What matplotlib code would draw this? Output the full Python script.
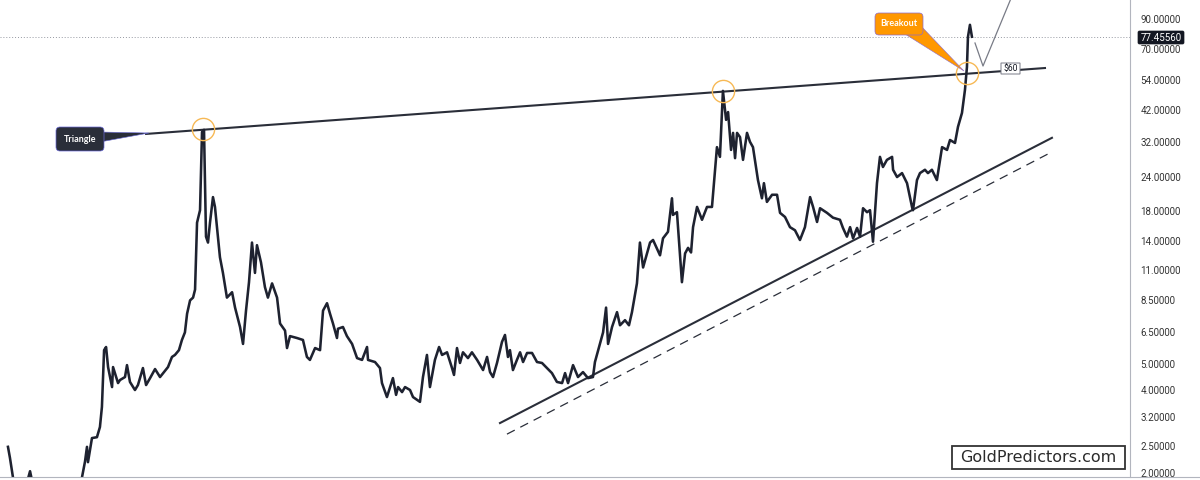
import matplotlib
matplotlib.use("Agg")
import matplotlib.pyplot as plt
from matplotlib.patches import FancyBboxPatch, Polygon
from matplotlib.lines import Line2D
from matplotlib.transforms import Affine2D
from matplotlib.ticker import NullLocator

# ---------------- data ----------------
years = [
    1968.28, 1968.40, 1968.58, 1968.76, 1969.13, 1969.43, 1969.61, 1969.79, 1970.21, 1970.81,
    1971.41, 1972.02, 1972.50, 1972.74, 1972.92, 1973.04, 1973.10, 1973.34, 1973.64, 1973.82,
    1973.94, 1974.07, 1974.19, 1974.31, 1974.55, 1974.61, 1974.91, 1975.03, 1975.33, 1975.45,
    1975.63, 1975.93, 1976.11, 1976.41, 1976.60, 1976.84, 1977.14, 1977.44, 1977.68, 1977.92,
    1978.16, 1978.34, 1978.58, 1978.76, 1978.94, 1979.07, 1979.25, 1979.43, 1979.55, 1979.67,
    1979.85, 1979.97, 1980.09, 1980.21, 1980.33, 1980.45, 1980.63, 1980.75, 1981.05, 1981.23,
    1981.47, 1981.78, 1981.96, 1982.26, 1982.44, 1982.62, 1982.80, 1982.98, 1983.16, 1983.28,
    1983.52, 1983.76, 1983.94, 1984.19, 1984.49, 1984.67, 1984.97, 1985.09, 1985.27, 1985.69,
    1986.05, 1986.29, 1986.47, 1986.78, 1987.08, 1987.26, 1987.50, 1987.68, 1987.86, 1988.10,
    1988.16, 1988.46, 1988.70, 1989.01, 1989.31, 1989.61, 1989.91, 1989.97, 1990.39, 1990.69,
    1990.81, 1991.11, 1991.47, 1991.66, 1991.78, 1992.02, 1992.20, 1992.50, 1992.68, 1993.10,
    1993.28, 1993.52, 1993.70, 1994.00, 1994.25, 1994.43, 1994.73, 1995.03, 1995.15, 1995.33,
    1995.51, 1995.69, 1995.99, 1996.23, 1996.54, 1996.90, 1997.14, 1997.32, 1997.50, 1997.74,
    1998.04, 1998.22, 1998.40, 1998.52, 1998.70, 1998.94, 1999.13, 1999.31, 1999.55, 1999.85,
    2000.15, 2000.45, 2000.75, 2001.05, 2001.35, 2001.66, 2001.84, 2002.02, 2002.32, 2002.62,
    2002.92, 2003.22, 2003.52, 2003.64, 2003.94, 2004.13, 2004.31, 2004.43, 2004.67, 2004.97,
    2005.15, 2005.45, 2005.69, 2005.87, 2006.17, 2006.35, 2006.54, 2006.78, 2006.96, 2007.14,
    2007.56, 2007.74, 2008.04, 2008.28, 2008.34, 2008.58, 2008.88, 2009.07, 2009.25, 2009.43,
    2009.55, 2009.79, 2010.09, 2010.39, 2010.69, 2010.99, 2011.17, 2011.35, 2011.54, 2011.66,
    2011.84, 2011.96, 2012.08, 2012.20, 2012.38, 2012.56, 2012.80, 2012.98, 2013.16, 2013.46,
    2013.70, 2013.82, 2014.00, 2014.31, 2014.61, 2014.79, 2015.09, 2015.39, 2015.69, 2015.99,
    2016.29, 2016.60, 2016.78, 2017.02, 2017.20, 2017.62, 2017.98, 2018.40, 2018.58, 2018.82,
    2019.01, 2019.19, 2019.43, 2019.61, 2019.79, 2020.03, 2020.21, 2020.39, 2020.63, 2020.81,
    2020.99, 2021.23, 2021.54, 2021.60, 2021.84, 2022.14, 2022.44, 2022.74, 2022.80, 2023.04,
    2023.22, 2023.52, 2023.70, 2023.94, 2024.24, 2024.55, 2024.85, 2025.03, 2025.33, 2025.51,
    2025.75, 2025.93, 2026.05, 2026.11, 2026.23, 2026.35,
]
prices = [
    2.49, 2.27, 1.93, 1.75, 1.68, 1.85, 2.03, 1.80, 1.65, 1.55,
    1.50, 1.55, 1.70, 1.93, 2.20, 2.49, 2.19, 2.68, 2.70, 2.94,
    3.48, 5.60, 5.75, 4.86, 4.11, 4.86, 4.25, 4.36, 4.47, 4.94,
    4.29, 4.01, 4.18, 4.82, 4.18, 4.43, 4.78, 4.47, 4.66, 4.86,
    5.29, 5.38, 5.60, 6.10, 6.50, 7.60, 8.50, 8.70, 9.30, 16.3,
    18.1, 34.9, 35.5, 14.5, 13.8, 16.3, 20.2, 18.6, 12.2, 10.7,
    8.7, 9.1, 8.0, 6.8, 5.9, 7.8, 9.9, 13.8, 10.7, 13.5,
    11.7, 9.5, 8.7, 9.8, 8.7, 7.0, 6.6, 5.7, 6.3, 6.2,
    6.1, 5.29, 5.16, 5.7, 5.6, 7.8, 8.3, 7.6, 7.0, 6.2,
    6.7, 6.8, 6.3, 5.9, 5.24, 5.16, 5.75, 5.16, 5.07, 4.82,
    4.25, 3.78, 4.43, 3.85, 4.11, 3.94, 4.11, 4.01, 3.78, 3.63,
    4.47, 5.38, 4.11, 5.16, 5.75, 5.38, 5.50, 4.82, 4.55, 5.70,
    5.03, 5.50, 5.24, 5.50, 5.16, 4.74, 5.29, 4.66, 4.47, 5.03,
    6.00, 6.36, 5.29, 5.60, 4.74, 5.16, 5.50, 5.07, 5.47, 5.47,
    5.07, 5.03, 4.82, 4.62, 4.29, 4.25, 4.62, 4.25, 4.94, 4.47,
    4.66, 4.43, 4.47, 5.07, 5.90, 6.50, 8.00, 5.90, 6.80, 7.70,
    6.90, 7.20, 6.90, 7.70, 9.80, 13.8, 11.2, 12.6, 13.8, 14.1,
    12.4, 14.3, 15.1, 20.0, 17.4, 17.8, 9.9, 12.6, 13.2, 12.7,
    15.7, 18.6, 16.7, 18.6, 18.6, 30.7, 28.3, 49.2, 38.6, 41.2,
    30.0, 34.6, 28.0, 34.6, 33.4, 27.6, 34.6, 32.1, 30.7, 23.3,
    20.0, 22.7, 19.4, 20.6, 20.6, 17.7, 17.1, 15.7, 15.3, 14.1,
    15.7, 20.2, 18.6, 16.4, 18.4, 17.7, 17.0, 16.7, 15.6, 14.5,
    15.7, 14.3, 15.6, 14.5, 18.4, 17.8, 18.1, 13.9, 22.7, 28.3,
    26.0, 27.6, 28.3, 25.4, 23.9, 24.7, 22.7, 18.6, 18.1, 23.3,
    24.7, 25.4, 24.7, 25.4, 23.3, 30.7, 30.0, 32.6, 31.8, 36.4,
    40.9, 49.6, 60.1, 77.3, 85.6, 77.4556,
]

res_years = [1976.60, 2030.75]
res_prices = [34.3, 59.6]
sup_years = [1997.92, 2031.17]
sup_prices = [3.04, 33.2]
dash_years = [1998.34, 2031.17]
dash_prices = [2.77, 29.5]
touch_years = [1980.03, 2011.35, 2026.05]
touch_prices = [35.7, 49.2, 57.2]
last_price = 77.4556
ytick_values = [2.0, 2.5, 3.2, 4.0, 5.0, 6.5, 8.5, 11.0, 14.0, 18.0, 24.0, 32.0, 42.0, 54.0, 70.0, 90.0]
ytick_labels = [f"{v:.5f}" for v in ytick_values]

# ---------------- figure ----------------
W, H = 1200, 480
fig = plt.figure(figsize=(12, 4.8), dpi=100)
fig.patch.set_facecolor("white")
PX = Affine2D().scale(0.01, -0.01).translate(0, 4.8) + fig.dpi_scale_trans

ax_right, ax_bottom = 1130, 477
ax = fig.add_axes([0, (H - ax_bottom) / H, ax_right / W, ax_bottom / H])
ax.set_yscale("log")
ax.set_xlim(1967.8, 1967.8 + ax_right / 16.6)
ax.set_ylim(1.934, 105.4)

for s in ["top", "left", "bottom"]:
    ax.spines[s].set_visible(False)
ax.spines["right"].set_color("#b2b5be")
ax.spines["right"].set_linewidth(0.8)
ax.set_xticks([])
ax.yaxis.tick_right()
ax.yaxis.set_minor_locator(NullLocator())
ax.set_yticks(ytick_values)
ax.set_yticklabels(ytick_labels)
ax.tick_params(axis="y", length=0, pad=7.5, labelsize=7, labelcolor="#333333")
for lab in ax.get_yticklabels():
    lab.set_fontfamily("Roboto")

# bottom rule across whole width
fig.add_artist(Line2D([0, W], [ax_bottom, ax_bottom], transform=PX, color="#b2b5be", lw=0.8))

# price line
ax.plot(years, prices, color="#1e2230", lw=1.85, solid_joinstyle="round", zorder=4)

# trend lines
ax.plot(res_years, res_prices, color="#2a2e39", lw=1.5, zorder=3)
ax.plot(sup_years, sup_prices, color="#2a2e39", lw=1.5, zorder=3)
ax.plot(dash_years, dash_prices, color="#2a2e39", lw=0.9, ls=(0, (7, 5)), zorder=3)

# touch circles
ax.plot(touch_years, touch_prices, ls="none", marker="o", ms=16, mfc="none",
        mec="#f7b955", mew=1.0, zorder=5)

# last price dotted line
ax.axhline(last_price, color="#9598a1", lw=0.7, ls=(0, (1, 2)), zorder=1)

# ---------------- annotations (pixel coords) ----------------
def box(x, y, w, h, fc, ec, lw=0.8, r=3, z=10):
    p = FancyBboxPatch((x, y), w, h, boxstyle=f"round,pad=0,rounding_size={r}",
                       transform=PX, fc=fc, ec=ec, lw=lw, zorder=z)
    fig.add_artist(p)

def poly(pts, fc, ec, lw=0.8, z=9):
    p = Polygon(pts, closed=True, transform=PX, fc=fc, ec=ec, lw=lw, zorder=z)
    fig.add_artist(p)

# Triangle callout
poly([(100, 132), (100, 142), (149, 133)], "#2a2e39", "#6a6ad8", lw=0.4)
box(56, 127, 48, 24, "#2a2e39", "#6a6ad8", lw=0.5, r=4)
fig.text(80, 139, "Triangle", transform=PX, color="white", fontsize=6.5,
         fontweight="bold", family="Lato", ha="center", va="center", zorder=11)

# Breakout callout
poly([(905, 34), (921, 26), (964, 71)], "#ff9800", "#8a6ad0", lw=0.4)
box(875, 13, 48, 22, "#ff9800", "#8a6ad0", lw=0.5, r=4)
fig.text(899, 23.5, "Breakout", transform=PX, color="white", fontsize=6.5,
         fontweight="bold", family="Lato", ha="center", va="center", zorder=11)

# gray check line
fig.add_artist(Line2D([975, 983, 1012], [43, 66, -4], transform=PX,
                      color="#787b86", lw=0.9, zorder=6))

# $60 label
box(1001, 63, 19, 11, "white", "#787b86", lw=0.7, r=0)
fig.text(1010.5, 68.8, "$60", transform=PX, color="#131722", fontsize=6.2,
         family="Roboto", ha="center", va="center", zorder=11)

# last price label on axis
box(1138, 31, 46, 13, "#131722", "#131722", lw=0.5, r=1.5, z=12)
fig.text(1161, 37.8, "77.45560", transform=PX, color="white", fontsize=7,
         family="Roboto", ha="center", va="center", zorder=13)

# watermark
box(952, 446, 173, 23, "white", "#333333", lw=1.3, r=0, z=12)
fig.text(1038.5, 458, "GoldPredictors.com", transform=PX, color="#2b2b2b", fontsize=11.5,
         family="DejaVu Sans", ha="center", va="center", zorder=13)

fig.savefig("out.png", dpi=100, facecolor="white")
